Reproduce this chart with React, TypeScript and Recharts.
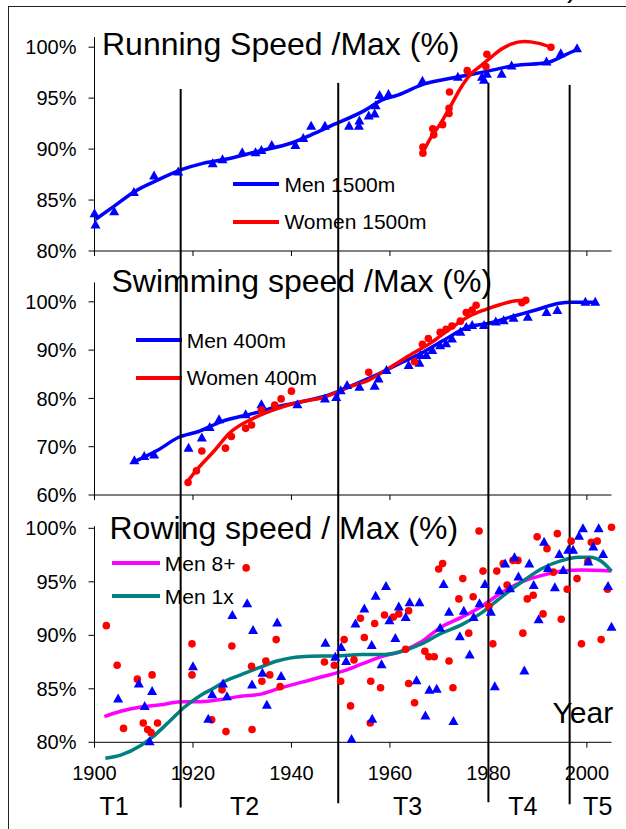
import { ComposedChart, Line, Scatter, XAxis, YAxis, ReferenceLine } from "recharts";

// ─── Data ─────────────────────────────────────────────────────────────────────

type Pt = [number, number];

const YEAR_TICKS = [1900, 1920, 1940, 1960, 1980, 2000];
const PERIOD_BOUNDS = [1917.5, 1949.5, 1980, 1996.5];
const PERIOD_LABELS = ["T1", "T2", "T3", "T4", "T5"];
const PERIOD_LABEL_YEARS = [1904, 1930.5, 1963.6, 1987, 2002.2];

const RUN_TICKS = [80, 85, 90, 95, 100];
const SWIM_TICKS = [60, 70, 80, 90, 100];
const ROW_TICKS = [80, 85, 90, 95, 100];

const RUN_SERIES = ["Men 1500m", "Women 1500m"];
const SWIM_SERIES = ["Men 400m", "Women 400m"];
const ROW_SERIES = ["Men 8+", "Men 1x"];

const RUN_MEN_PTS: Pt[] = [
  [1900, 83.7], [1900.2, 82.6], [1904, 83.9], [1908, 85.8], [1912.1, 87.4], [1917, 87.8],
  [1924, 88.6], [1926, 89.0], [1930, 89.7], [1932.7, 89.7], [1933.9, 89.9], [1936, 90.4],
  [1940.8, 90.4], [1942.4, 91.1], [1944, 92.3], [1946.8, 92.3], [1951.7, 92.3], [1953.7, 92.3],
  [1953.8, 92.8], [1955.7, 93.3], [1956.9, 93.5], [1957.1, 94.3], [1957.9, 95.3], [1959.7, 95.4],
  [1966.6, 96.7], [1973.8, 97.1], [1978.7, 97.1], [1979.1, 96.8], [1979.7, 97.4], [1982.7, 97.4],
  [1984.7, 98.2], [1991.8, 98.6], [1994.7, 99.4], [1998, 99.9],
];
const RUN_MEN_TREND: Pt[] = [
  [1900.2, 83.1], [1904, 84.4], [1908, 85.8], [1913, 87.0], [1917.8, 88.0], [1922, 88.6],
  [1926.6, 89.0], [1933.3, 89.8], [1940, 90.6], [1944, 91.4], [1948.1, 92.3], [1954.9, 93.8],
  [1958.3, 94.8], [1961.6, 95.3], [1967, 96.4], [1971.8, 96.9], [1975.1, 97.2], [1979.9, 97.65],
  [1985.3, 98.2], [1992, 98.5], [1995.4, 99.2], [1998.1, 99.8],
];
const RUN_WOMEN_PTS: Pt[] = [
  [1966.7, 90.2], [1966.7, 89.6], [1968.7, 92.0], [1968.9, 91.4], [1970.7, 92.4], [1972, 93.5],
  [1972, 94.0], [1972.1, 95.6], [1975.7, 97.7], [1979.5, 98.1], [1979.7, 99.3], [1992.7, 100.0],
];
const RUN_WOMEN_TREND: Pt[] = [
  [1966.7, 89.7], [1968.4, 91.2], [1970.4, 92.6], [1972.4, 94.3], [1974.5, 96.1], [1976.5, 97.4],
  [1978.5, 98.2], [1980.5, 99.0], [1982.6, 99.8], [1984.6, 100.3], [1987.3, 100.55], [1990, 100.4],
  [1992.7, 100.0],
];

const SWIM_MEN_PTS: Pt[] = [
  [1908.1, 67.2], [1910.1, 68.1], [1912.1, 68.4], [1919.1, 69.8], [1921.8, 71.9], [1923.4, 74.1],
  [1925.3, 75.7], [1930.7, 76.7], [1933.9, 78.8], [1941.2, 78.8], [1946.8, 80.0], [1949.1, 80.3],
  [1950, 81.7], [1951.3, 82.8], [1953.8, 82.4], [1956.9, 82.6], [1957.7, 84.1], [1959.3, 85.9],
  [1963.8, 86.9], [1966, 87.4], [1966.2, 89.0], [1967.4, 89.0], [1968.6, 90.0], [1970.2, 91.0],
  [1971.4, 91.4], [1972.6, 92.4], [1974.3, 93.8], [1975.5, 94.8], [1976.7, 95.2], [1979.1, 95.2],
  [1981.5, 95.9], [1983.1, 96.2], [1985.1, 96.7], [1988, 96.9], [1991.8, 97.9], [1994, 98.3],
  [1999.7, 100.0], [2001.7, 100.0],
];
const SWIM_MEN_TREND: Pt[] = [
  [1908.1, 66.9], [1912.9, 69.3], [1917, 71.9], [1921, 73.1], [1925.8, 75.2], [1932.3, 76.9],
  [1937.1, 78.3], [1942, 79.3], [1947.6, 80.7], [1951.7, 82.4], [1956.5, 84.5], [1961.3, 86.9],
  [1966.2, 89.3], [1971, 92.1], [1975.9, 94.8], [1979.9, 95.5], [1984.7, 96.9], [1989.6, 98.3],
  [1994.4, 99.7], [1996.9, 99.9], [2001.7, 99.9],
];
const SWIM_WOMEN_PTS: Pt[] = [
  [1919, 62.6], [1920.7, 65.0], [1921.8, 69.1], [1926.6, 69.7], [1927.8, 72.1], [1930.7, 73.8],
  [1931.9, 74.5], [1933.9, 77.6], [1936.6, 78.6], [1937.9, 79.9], [1940, 81.5], [1955.7, 85.4],
  [1965, 87.6], [1966.6, 91.2], [1967.8, 92.4], [1970.2, 93.7], [1971.4, 94.3], [1972.6, 95.0],
  [1974.3, 96.0], [1975.5, 97.8], [1976.7, 98.3], [1977.5, 99.3], [1986.8, 99.8], [1987.6, 100.3],
];
const SWIM_WOMEN_TREND: Pt[] = [
  [1918.6, 62.4], [1921, 65.5], [1924.2, 69.0], [1927.4, 72.8], [1932.3, 75.9], [1937.1, 77.9],
  [1942, 79.3], [1946.8, 80.3], [1951.7, 82.4], [1955.7, 83.8], [1959.7, 86.2], [1964.6, 89.3],
  [1968.6, 91.7], [1971.8, 94.1], [1975.9, 96.9], [1979.1, 98.3], [1982.3, 99.4], [1985.6, 100.2],
  [1988, 100.3],
];

const ROW_EIGHT_PTS: Pt[] = [
  [1902.4, 90.9], [1904.6, 87.2], [1905.9, 81.3], [1908.7, 85.9], [1909.9, 81.8], [1910.8, 81.2],
  [1911.5, 80.9], [1911.7, 86.3], [1912.8, 81.8], [1919.8, 89.2], [1919.8, 86.3], [1923.8, 82.1],
  [1925.9, 84.9], [1926.7, 81.0], [1927.9, 89.0], [1930.8, 96.3], [1931.9, 87.1], [1932, 81.2],
  [1934, 85.7], [1934.8, 87.6], [1935.6, 86.3], [1936.9, 89.6], [1937.7, 85.2], [1946.7, 87.5],
  [1948.7, 87.2], [1950, 85.7], [1950.7, 89.6], [1952, 83.4], [1952.7, 87.7], [1954, 91.6],
  [1954.8, 89.8], [1956.1, 85.7], [1956, 81.8], [1956.9, 91.1], [1958.1, 85.1], [1958.9, 91.9],
  [1960.7, 91.7], [1961.8, 92.0], [1963.2, 88.7], [1963.8, 92.3], [1963.8, 85.5], [1965, 83.7],
  [1967.1, 88.5], [1967.9, 88.0], [1969, 88.0], [1969.9, 96.2], [1970.7, 96.7], [1972, 87.6],
  [1972.8, 85.1], [1974, 93.4], [1974.8, 95.3], [1976, 90.2], [1976.9, 93.6], [1978.1, 99.75],
  [1978.9, 96.0], [1980.1, 92.7], [1980.9, 89.2], [1981.7, 96.0], [1983, 96.7], [1983.8, 94.7],
  [1985, 97.0], [1986, 97.0], [1987, 90.2], [1987.9, 93.4], [1989.1, 93.75], [1989.9, 99.2],
  [1991.1, 92.0], [1991.9, 98.1], [1993.2, 95.9], [1994, 99.5], [1994.8, 91.5], [1996, 94.3],
  [1996.8, 98.8], [1998, 95.3], [1998.9, 89.2], [2000.2, 96.9], [2000.9, 98.7], [2002.1, 98.8],
  [2002.9, 89.6], [2004.2, 94.3], [2005, 100.1],
];
const ROW_SINGLE_PTS: Pt[] = [
  [1904.8, 84.1], [1909, 85.5], [1910.2, 83.4], [1911.2, 80.1], [1911.7, 84.8], [1920, 87.1],
  [1923.1, 82.2], [1923.9, 84.5], [1926.1, 85.5], [1926.9, 84.3], [1928, 91.9], [1931, 93.0],
  [1932, 85.4], [1932.2, 90.5], [1934.1, 86.5], [1935, 83.5], [1937.1, 91.2], [1937.9, 86.2],
  [1946.9, 89.3], [1948.9, 88.0], [1950.1, 88.9], [1951.1, 87.6], [1952.2, 80.3], [1953, 91.1],
  [1954.8, 92.5], [1956.3, 89.1], [1956.4, 82.2], [1957.1, 93.7], [1958.3, 87.3], [1959.2, 94.6],
  [1959.9, 91.4], [1961.1, 89.75], [1961.8, 92.7], [1963.2, 91.7], [1964, 93.1], [1965.4, 85.8],
  [1966, 93.1], [1967.2, 82.5], [1968, 84.9], [1969.5, 85.0], [1970.2, 90.7], [1970.9, 94.8],
  [1972, 92.2], [1972.9, 82.0], [1974.2, 89.9], [1975, 92.3], [1976.2, 88.2], [1977, 91.7],
  [1978.2, 93.0], [1979.3, 94.8], [1980.5, 92.2], [1981.3, 85.25], [1982.2, 94.2], [1983.4, 96.7],
  [1984.4, 94.4], [1985.3, 97.3], [1986.1, 95.5], [1987.3, 86.7], [1988.3, 96.7], [1989.2, 94.7],
  [1990.2, 91.5], [1991.3, 98.75], [1992.1, 96.3], [1993.5, 94.5], [1994.4, 97.6], [1995.2, 96.1],
  [1996.2, 98.0], [1997.2, 98.0], [1998.4, 99.3], [1999.2, 100.0], [2000.3, 96.9], [2001.3, 98.3],
  [2002.4, 100.0], [2003.3, 97.6], [2004.3, 94.6], [2005, 90.8],
];
const ROW_EIGHT_TREND: Pt[] = [
  [1902, 82.4], [1905.3, 82.9], [1909.4, 83.3], [1913.4, 83.5], [1917.5, 83.8], [1921.6, 83.8],
  [1925.7, 84.0], [1929.7, 84.3], [1933.8, 84.5], [1937.9, 85.1], [1942, 85.6], [1946, 86.1],
  [1950.1, 86.6], [1954.2, 87.3], [1958.3, 88.0], [1962.3, 88.5], [1966.4, 89.4], [1970.5, 90.8],
  [1974.6, 91.7], [1978.6, 92.7], [1982.7, 94.0], [1986.8, 95.0], [1990.9, 95.6], [1995, 96.0],
  [1999, 96.1], [2005, 96.0],
];
const ROW_SINGLE_TREND: Pt[] = [
  [1902.2, 78.5], [1905.3, 78.8], [1909.4, 79.7], [1911.8, 80.5], [1915.1, 81.9], [1918.3, 83.3],
  [1921.6, 84.4], [1924, 85.0], [1926.9, 85.8], [1929.7, 86.3], [1933, 86.9], [1937.1, 87.6],
  [1942, 88.0], [1950.1, 88.1], [1954.2, 88.2], [1958.3, 88.2], [1961.5, 88.4], [1966.4, 89.2],
  [1970.5, 90.2], [1974.6, 91.0], [1978.6, 92.1], [1982.7, 93.6], [1986.8, 95.0], [1990.9, 96.25],
  [1995, 97.0], [1998.2, 97.3], [2000.6, 97.3], [2003, 96.9], [2005, 96.0],
];

// ─── Helpers ──────────────────────────────────────────────────────────────────

const BLUE = "#0000ff";
const RED = "#ff0000";
const MAGENTA = "#ff00ff";
const TEAL = "#008080";
const FONT = '"Liberation Sans", Arial, sans-serif';
const W = 626;
const PLOT_LEFT = 94.5;
const PLOT_RIGHT = 14.5;

const rows = (pts: Pt[]) => pts.map(([x, y]) => ({ x, y }));
const pct = (v: number) => `${v}%`;

const triangle = (color: string) => (p: any) =>
  p.cx == null ? <g /> : (
    <polygon
      points={`${p.cx},${p.cy - 5} ${p.cx - 5},${p.cy + 4} ${p.cx + 5},${p.cy + 4}`}
      fill={color}
    />
  );

const circle = (color: string) => (p: any) =>
  p.cx == null ? <g /> : <circle cx={p.cx} cy={p.cy} r={3.8} fill={color} />;

// vertical period separators; ends given in the panel's own y units
const periodLines = (ends: [number, number][]) =>
  PERIOD_BOUNDS.map((yr, i) => (
    <ReferenceLine
      key={`period-${i}`}
      ifOverflow="visible"
      stroke="#000"
      strokeWidth={2}
      segment={[{ x: yr, y: ends[i][0] }, { x: yr, y: ends[i][1] }]}
    />
  ));

// period names sit under the year labels; x comes from the year scale
const periodName = (p: any) =>
  p.cx == null ? <g /> : (
    <text x={p.cx} y={p.cy} dy={51.5} textAnchor="middle" fontSize={25} fontFamily={FONT} fill="#000">
      {p.payload.label}
    </text>
  );

function Title({ text, left, top, size }: { text: string; left: number; top: number; size: number }) {
  return (
    <div style={{ position: "absolute", left, top, fontSize: size, lineHeight: 1, whiteSpace: "nowrap" }}>
      {text}
    </div>
  );
}

function LegendRow({ x, y, w, color, label }: { x: number; y: number; w: number; color: string; label: string }) {
  return (
    <>
      <div style={{ position: "absolute", left: x, top: y - 2, width: w, height: 4, background: color }} />
      <div style={{ position: "absolute", left: x + w + 5, top: y - 10.3, fontSize: 21, lineHeight: 1, whiteSpace: "nowrap" }}>
        {label}
      </div>
    </>
  );
}

const yTick = { fill: "#000", fontSize: 20, fontFamily: FONT };

// ─── Panels ───────────────────────────────────────────────────────────────────

function RunningPanel() {
  return (
    <div style={{ position: "absolute", left: 0, top: 0 }}>
      <ComposedChart width={W} height={262} margin={{ top: 37, right: PLOT_RIGHT, bottom: 1, left: 0 }}>
        <XAxis dataKey="x" type="number" domain={[1900, 2005]} ticks={YEAR_TICKS} tickFormatter={() => ""}
          tickSize={5} height={10} stroke="#000" interval={0} />
        <YAxis dataKey="y" type="number" domain={[80, 101]} ticks={RUN_TICKS} tickFormatter={pct}
          width={PLOT_LEFT} tickSize={6} tickMargin={12} stroke="#000" tick={yTick} interval={0} />
        <Line data={rows(RUN_MEN_TREND)} dataKey="y" type="monotone" stroke={BLUE} strokeWidth={3.5}
          dot={false} isAnimationActive={false} />
        <Line data={rows(RUN_WOMEN_TREND)} dataKey="y" type="monotone" stroke={RED} strokeWidth={3.5}
          dot={false} isAnimationActive={false} />
        <Scatter data={rows(RUN_MEN_PTS)} shape={triangle(BLUE)} isAnimationActive={false} />
        <Scatter data={rows(RUN_WOMEN_PTS)} shape={circle(RED)} isAnimationActive={false} />
        {periodLines([[95.9, 75], [96.5, 75], [96.5, 75], [96.3, 75]])}
      </ComposedChart>
    </div>
  );
}

function SwimmingPanel() {
  return (
    <div style={{ position: "absolute", left: 0, top: 262 }}>
      <ComposedChart width={W} height={243} margin={{ top: 20.5, right: PLOT_RIGHT, bottom: 0, left: 0 }}>
        <XAxis dataKey="x" type="number" domain={[1900, 2005]} ticks={YEAR_TICKS} tickFormatter={() => ""}
          tickSize={5} height={10} stroke="#000" interval={0} />
        <YAxis dataKey="y" type="number" domain={[60, 104]} ticks={SWIM_TICKS} tickFormatter={pct}
          width={PLOT_LEFT} tickSize={6} tickMargin={12} stroke="#000" tick={yTick} interval={0} />
        <Line data={rows(SWIM_MEN_TREND)} dataKey="y" type="monotone" stroke={BLUE} strokeWidth={3.5}
          dot={false} isAnimationActive={false} />
        <Line data={rows(SWIM_WOMEN_TREND)} dataKey="y" type="monotone" stroke={RED} strokeWidth={3.5}
          dot={false} isAnimationActive={false} />
        <Scatter data={rows(SWIM_MEN_PTS)} shape={triangle(BLUE)} isAnimationActive={false} />
        <Scatter data={rows(SWIM_WOMEN_PTS)} shape={circle(RED)} isAnimationActive={false} />
        {periodLines([[110, 55], [110, 55], [110, 55], [110, 55]])}
      </ComposedChart>
    </div>
  );
}

function RowingPanel() {
  const names = PERIOD_LABELS.map((label, i) => ({ x: PERIOD_LABEL_YEARS[i], y: 0, label }));
  return (
    <div style={{ position: "absolute", left: 0, top: 505 }}>
      <ComposedChart width={W} height={324} margin={{ top: 12.6, right: PLOT_RIGHT, bottom: 1.3, left: 0 }}>
        <XAxis dataKey="x" type="number" domain={[1900, 2005]} ticks={YEAR_TICKS} axisLine={false}
          tickLine={false} tickSize={0} tickMargin={2} height={64} interval={0}
          tick={{ fill: "#000", fontSize: 20, fontFamily: FONT }} />
        <YAxis dataKey="y" type="number" domain={[78, 101]} ticks={ROW_TICKS} tickFormatter={pct}
          width={PLOT_LEFT} tickSize={6} tickMargin={12} axisLine={false} tickLine={{ stroke: "#000" }}
          tick={yTick} interval={0} />
        {/* hidden scale for the period names, which hang below the plot */}
        <YAxis yAxisId="names" dataKey="y" type="number" domain={[0, 1]} hide />
        {/* axes drawn at the 80% level, the trend lines dip below it */}
        <ReferenceLine ifOverflow="visible" stroke="#000" segment={[{ x: 1900, y: 80 }, { x: 2005, y: 80 }]} />
        <ReferenceLine ifOverflow="visible" stroke="#000" segment={[{ x: 1900, y: 80 }, { x: 1900, y: 100.2 }]} />
        {YEAR_TICKS.map((yr) => (
          <ReferenceLine key={`xt-${yr}`} ifOverflow="visible" stroke="#000"
            segment={[{ x: yr, y: 80 }, { x: yr, y: 79.5 }]} />
        ))}
        <Scatter data={rows(ROW_EIGHT_PTS)} shape={circle(RED)} isAnimationActive={false} />
        <Scatter data={rows(ROW_SINGLE_PTS)} shape={triangle(BLUE)} isAnimationActive={false} />
        <Line data={rows(ROW_EIGHT_TREND)} dataKey="y" type="monotone" stroke={MAGENTA} strokeWidth={3.5}
          dot={false} isAnimationActive={false} />
        <Line data={rows(ROW_SINGLE_TREND)} dataKey="y" type="monotone" stroke={TEAL} strokeWidth={3.5}
          dot={false} isAnimationActive={false} />
        <Scatter yAxisId="names" data={names} shape={periodName} isAnimationActive={false} />
        {periodLines([[104, 73.9], [104, 74.3], [104, 74.4], [104, 74.2]])}
      </ComposedChart>
    </div>
  );
}

// ─── App ──────────────────────────────────────────────────────────────────────

export default function App() {
  return (
    <div
      style={{
        position: "absolute", left: 0, top: 0, width: W, height: 829, overflow: "hidden",
        background: "#fff", fontFamily: FONT, color: "#000",
      }}
    >
      <div style={{ position: "absolute", left: 8, top: 6, width: 640, height: 840, borderLeft: "1px solid #222", borderTop: "1px solid #222" }} />
      <div style={{ position: "absolute", left: 567, top: -27.7, fontSize: 30, lineHeight: 1 }}>)</div>

      <Title text="Running Speed /Max (%)" left={102} top={27.9} size={32} />
      <LegendRow x={232.7} y={184} w={46.7} color={BLUE} label={RUN_SERIES[0]} />
      <LegendRow x={232.7} y={221.7} w={46.7} color={RED} label={RUN_SERIES[1]} />

      <Title text="Swimming speed /Max (%)" left={111.5} top={265.4} size={32} />
      <LegendRow x={135.7} y={340} w={46} color={BLUE} label={SWIM_SERIES[0]} />
      <LegendRow x={135.7} y={377.7} w={46} color={RED} label={SWIM_SERIES[1]} />

      <Title text="Rowing speed / Max (%)" left={109.5} top={512.2} size={32} />
      <LegendRow x={111.8} y={563.3} w={48} color={MAGENTA} label={ROW_SERIES[0]} />
      <LegendRow x={111.8} y={596} w={48} color={TEAL} label={ROW_SERIES[1]} />
      <Title text="Year" left={552.5} top={697.9} size={30} />

      <RunningPanel />
      <SwimmingPanel />
      <RowingPanel />
    </div>
  );
}
